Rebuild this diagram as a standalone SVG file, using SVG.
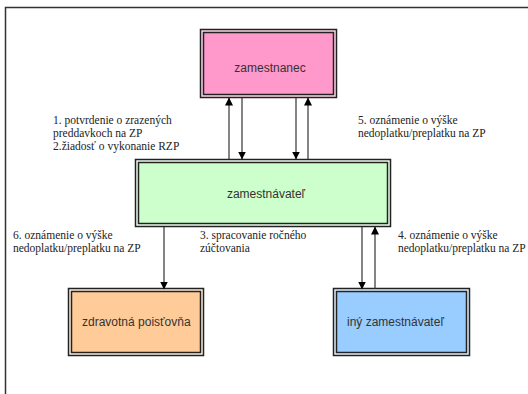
<svg xmlns="http://www.w3.org/2000/svg" width="528" height="394" viewBox="0 0 528 394">
<style>
.frame{fill:none;stroke:#333;stroke-width:1.5}
.outer{stroke:#222;stroke-width:1.5}
.inner{stroke:#222;stroke-width:1.5}
.lbl{font-family:"Liberation Sans",Arial,sans-serif;font-size:12px;fill:#333}
.note{font-family:"Liberation Serif","Times New Roman",serif;font-size:11.5px;fill:#222}
.conn{stroke:#333;stroke-width:1.2;fill:none;marker-end:url(#ah)}
</style>
<defs>
<marker id="ah" viewBox="0 0 8 8" refX="7.5" refY="4" markerWidth="8" markerHeight="8" markerUnits="userSpaceOnUse" orient="auto">
<path d="M0,0 L8,4 L0,8 Z" fill="#000"/>
</marker>
</defs>
<rect x="0" y="0" width="528" height="394" fill="#fff"/>
<path class="frame" d="M5.5,394 V7.5 H528"/>
<g id="zamestnanec">
<rect class="outer" x="200.5" y="29.5" width="136" height="68" fill="#ffd6ea"/>
<rect class="inner" x="203.5" y="32.5" width="130" height="62" fill="#ff99cc"/>
<text class="lbl" x="270" y="72" text-anchor="middle">zamestnanec</text>
</g>
<g id="zamestnavatel">
<rect class="outer" x="135.5" y="159.5" width="255" height="67" fill="#ecffec"/>
<rect class="inner" x="138.5" y="162.5" width="249" height="61" fill="#ccffcc"/>
<text class="lbl" x="266" y="198" text-anchor="middle">zamestnávateľ</text>
</g>
<g id="zdravotna">
<rect class="outer" x="68.5" y="288.5" width="135" height="67" fill="#ffeedd"/>
<rect class="inner" x="71.5" y="291.5" width="129" height="61" fill="#ffcc99"/>
<text class="lbl" x="82" y="326">zdravotná poisťovňa</text>
</g>
<g id="iny">
<rect class="outer" x="333.5" y="288.5" width="136" height="67" fill="#e0f0ff"/>
<rect class="inner" x="336.5" y="291.5" width="130" height="61" fill="#99ccff"/>
<text class="lbl" x="347" y="326">iný zamestnávateľ</text>
</g>
<g id="connectors">
<line class="conn" x1="229" y1="159" x2="229" y2="98"/>
<line class="conn" x1="242" y1="98" x2="242" y2="159"/>
<line class="conn" x1="296" y1="98" x2="296" y2="159"/>
<line class="conn" x1="308" y1="159" x2="308" y2="98"/>
<line class="conn" x1="164" y1="227" x2="164" y2="289"/>
<line class="conn" x1="362" y1="227" x2="362" y2="289"/>
<line class="conn" x1="375" y1="289" x2="375" y2="227"/>
</g>
<g id="labels">
<text class="note" x="53" y="124">1. potvrdenie o zrazených</text>
<text class="note" x="53" y="137">preddavkoch na ZP</text>
<text class="note" x="53" y="150">2.žiadosť o vykonanie RZP</text>
<text class="note" x="358" y="124">5. oznámenie o výške</text>
<text class="note" x="358" y="137">nedoplatku/preplatku na ZP</text>
<text class="note" x="13" y="239">6. oznámenie o výške</text>
<text class="note" x="13" y="252">nedoplatku/preplatku na ZP</text>
<text class="note" x="200" y="239">3. spracovanie ročného</text>
<text class="note" x="200" y="252">zúčtovania</text>
<text class="note" x="398" y="239">4. oznámenie o výške</text>
<text class="note" x="398" y="252">nedoplatku/preplatku na ZP</text>
</g>
</svg>
